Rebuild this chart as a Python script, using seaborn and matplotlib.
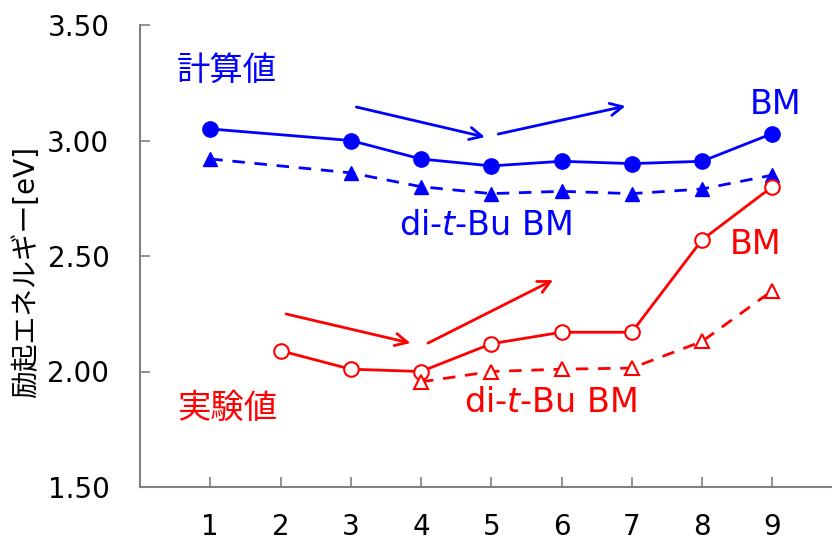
import matplotlib
matplotlib.use('Agg')

import pandas as pd
import matplotlib.pyplot as plt
import seaborn as sns

# データ
calc_x = [1, 3, 4, 5, 6, 7, 8, 9]
calc_bm = [3.05, 3.00, 2.92, 2.89, 2.91, 2.90, 2.91, 3.03]
calc_dtbu = [2.92, 2.86, 2.80, 2.77, 2.78, 2.77, 2.79, 2.85]

exp_bm_x = [2, 3, 4, 5, 6, 7, 8, 9]
exp_bm = [2.09, 2.01, 2.00, 2.12, 2.17, 2.17, 2.57, 2.80]
exp_dtbu_x = [4, 5, 6, 7, 8, 9]
exp_dtbu = [1.955, 2.00, 2.01, 2.015, 2.13, 2.35]

x_ticks = [1, 2, 3, 4, 5, 6, 7, 8, 9]
y_ticks = [1.50, 2.00, 2.50, 3.00, 3.50]

BLUE = '#0000FF'
RED = '#FF0000'

sns.set_style('ticks')
plt.rcParams['font.family'] = ['DejaVu Sans', 'Noto Sans CJK JP']
plt.rcParams['axes.unicode_minus'] = False

fig = plt.figure(figsize=(8.32, 5.42), dpi=100)
ax = fig.add_axes([140 / 832, 1 - 487 / 542, 1 - 140 / 832, (487 - 25) / 542])

calc_df = pd.DataFrame({'x': calc_x, 'bm': calc_bm, 'dtbu': calc_dtbu})
exp_bm_df = pd.DataFrame({'x': exp_bm_x, 'y': exp_bm})
exp_dtbu_df = pd.DataFrame({'x': exp_dtbu_x, 'y': exp_dtbu})

# 計算値
sns.lineplot(data=calc_df, x='x', y='bm', ax=ax, color=BLUE, lw=2,
             marker='o', markersize=11, markerfacecolor=BLUE,
             markeredgecolor=BLUE, markeredgewidth=1)
sns.lineplot(data=calc_df, x='x', y='dtbu', ax=ax, color=BLUE, lw=2,
             linestyle=(0, (4.5, 3.5)), marker='^', markersize=10.5,
             markerfacecolor=BLUE, markeredgecolor=BLUE, markeredgewidth=1)

# 実験値
sns.lineplot(data=exp_bm_df, x='x', y='y', ax=ax, color=RED, lw=2,
             marker='o', markersize=10.5, markerfacecolor='white',
             markeredgecolor=RED, markeredgewidth=1.5)
sns.lineplot(data=exp_dtbu_df, x='x', y='y', ax=ax, color=RED, lw=2,
             linestyle=(0, (4.5, 3.5)), marker='^', markersize=10.5,
             markerfacecolor='white', markeredgecolor=RED, markeredgewidth=1.5)

# 矢印
arrow = dict(arrowstyle='->', lw=2, mutation_scale=22, shrinkA=0, shrinkB=0)
ax.annotate('', xy=(4.91, 3.015), xytext=(3.08, 3.145), arrowprops=dict(color=BLUE, **arrow))
ax.annotate('', xy=(6.91, 3.149), xytext=(5.10, 3.028), arrowprops=dict(color=BLUE, **arrow))
ax.annotate('', xy=(3.85, 2.123), xytext=(2.08, 2.249), arrowprops=dict(color=RED, **arrow))
ax.annotate('', xy=(5.88, 2.396), xytext=(4.10, 2.123), arrowprops=dict(color=RED, **arrow))

# ラベル
fs = 24
ax.text(1.24, 3.305, '計算値', color=BLUE, fontsize=fs, ha='center', va='center')
ax.text(9.04, 3.154, 'BM', color=BLUE, fontsize=fs, ha='center', va='center')
ax.text(4.91, 2.634, r'di-$\it{t}$-Bu BM', color=BLUE, fontsize=fs, ha='center', va='center')
ax.text(8.76, 2.548, 'BM', color=RED, fontsize=fs, ha='center', va='center')
ax.text(1.24, 1.842, '実験値', color=RED, fontsize=fs, ha='center', va='center')
ax.text(5.84, 1.864, r'di-$\it{t}$-Bu BM', color=RED, fontsize=fs, ha='center', va='center')

ax.set_xlim(0, 9.85)
ax.set_ylim(1.5, 3.5)
ax.set_xticks(x_ticks)
ax.set_yticks(y_ticks)
ax.set_yticklabels([f'{v:.2f}' for v in y_ticks])
ax.set_xlabel('')
ax.set_ylabel('励起エネルギー[eV]', fontsize=20, color='black')
ax.yaxis.set_label_coords(-0.1445, 0.465)
ax.tick_params(direction='in', length=7, width=1.2, color='#808080',
               labelsize=20, labelcolor='black')
ax.tick_params(axis='x', pad=19)
ax.tick_params(axis='y', pad=22)

sns.despine(ax=ax, top=True, right=True)
for side in ['left', 'bottom']:
    ax.spines[side].set_color('#808080')
    ax.spines[side].set_linewidth(1.5)

plt.savefig('out.png', dpi=100)
